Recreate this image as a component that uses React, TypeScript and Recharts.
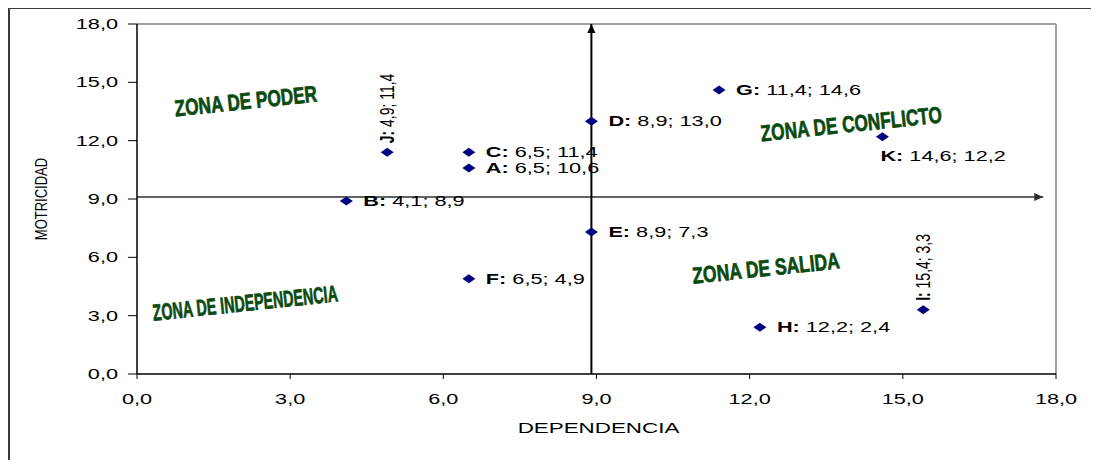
import React from "react";
import {
  ScatterChart,
  Scatter,
  XAxis,
  YAxis,
  ReferenceLine,
  ReferenceDot,
} from "recharts";

const pointNames = ["A", "B", "C", "D", "E", "F", "G", "H", "I", "J", "K"];
const dependencia = [6.5, 4.1, 6.5, 8.9, 8.9, 6.5, 11.4, 12.2, 15.4, 4.9, 14.6];
const motricidad = [10.6, 8.9, 11.4, 13.0, 7.3, 4.9, 14.6, 2.4, 3.3, 11.4, 12.2];
const axisTicks = [0, 3, 6, 9, 12, 15, 18];

const zoneNames = [
  "ZONA DE PODER",
  "ZONA DE CONFLICTO",
  "ZONA DE SALIDA",
  "ZONA DE INDEPENDENCIA",
];
const zoneX = [2.13, 13.99, 12.32, 2.12];
const zoneY = [14.04, 12.86, 5.45, 3.65];

// split lines of the quadrants
const splitDependencia = 8.9;
const splitMotricidad = 9.1;

const data = pointNames.map((name, i) => ({
  name,
  x: dependencia[i],
  y: motricidad[i],
}));

const FONT = "'Liberation Sans', Arial, sans-serif";
const STRETCH = 1.55;

const labelSide: Record<string, string> = { J: "up", I: "up", K: "below" };
const zoneWidth: Record<string, number> = {
  "ZONA DE PODER": 143,
  "ZONA DE CONFLICTO": 182,
  "ZONA DE SALIDA": 148,
  "ZONA DE INDEPENDENCIA": 186,
};

const fmt = (v: number) => v.toFixed(1).replace(".", ",");

function PointShape(props: any) {
  const { cx, cy, payload } = props;
  const side = labelSide[payload.name] || "right";
  let tf = `translate(${cx + 17},${cy + 5}) scale(${STRETCH},1)`;
  if (side === "up") tf = `translate(${cx + 7},${cy - 9}) scale(1.5,1) rotate(-90)`;
  if (side === "below") tf = `translate(${cx - 2},${cy + 24}) scale(${STRETCH},1)`;
  return (
    <g>
      <polygon
        points={`${cx},${cy - 4.5} ${cx + 6.5},${cy} ${cx},${cy + 4.5} ${cx - 6.5},${cy}`}
        fill="#000080"
      />
      <text transform={tf} fontFamily={FONT} fontSize={14} fill="#000">
        <tspan fontWeight="bold">{payload.name + ":"}</tspan>
        <tspan>{` ${fmt(payload.x)}; ${fmt(payload.y)}`}</tspan>
      </text>
    </g>
  );
}

function XTick(p: any) {
  return (
    <text
      transform={`translate(${p.x},${p.y + 23}) scale(${STRETCH},1)`}
      textAnchor="middle"
      fontFamily={FONT}
      fontSize={14}
      fill="#000"
    >
      {fmt(p.payload.value)}
    </text>
  );
}

function YTick(p: any) {
  return (
    <text
      transform={`translate(${p.x},${p.y + 5}) scale(${STRETCH},1)`}
      textAnchor="end"
      fontFamily={FONT}
      fontSize={14}
      fill="#000"
    >
      {fmt(p.payload.value)}
    </text>
  );
}

function Arrow(props: any) {
  const { x1, y1, x2, y2, color, lineWidth } = props;
  const horizontal = Math.abs(y2 - y1) < Math.abs(x2 - x1);
  let head: string;
  if (horizontal) {
    const hx = Math.max(x1, x2);
    head = `${hx},${y1} ${hx - 9},${y1 - 4} ${hx - 9},${y1 + 4}`;
  } else {
    const hy = Math.min(y1, y2);
    head = `${x1},${hy} ${x1 - 4},${hy + 9} ${x1 + 4},${hy + 9}`;
  }
  return (
    <g>
      <line x1={x1} y1={y1} x2={x2} y2={y2} stroke={color} strokeWidth={lineWidth} />
      <polygon points={head} fill={color} />
    </g>
  );
}

function ZoneLabel(props: any) {
  const { cx, cy, text } = props;
  return (
    <text
      transform={`translate(${cx},${cy}) rotate(-6)`}
      textAnchor="middle"
      dominantBaseline="central"
      fontFamily={FONT}
      fontWeight="bold"
      fontSize={23}
      fill="#0b4a10"
      stroke="#0b4a10"
      strokeWidth={0.7}
      textLength={zoneWidth[text]}
      lengthAdjust="spacingAndGlyphs"
    >
      {text}
    </text>
  );
}

export default function App() {
  return (
    <div style={{ position: "relative", width: 1091, height: 452 }}>
      <div
        style={{
          position: "absolute",
          left: 0,
          top: -1,
          width: 1091,
          height: 453,
          borderTop: "2px solid #3a3a3a",
          borderLeft: "2px solid #3a3a3a",
          boxSizing: "border-box",
        }}
      />
      <div style={{ position: "absolute", left: 0, top: 0 }}>
        <ScatterChart
          width={1091}
          height={452}
          margin={{ top: 16, right: 43, bottom: 46, left: 69 }}
        >
          <XAxis
            type="number"
            dataKey="x"
            domain={[0, 18]}
            ticks={axisTicks}
            height={40}
            tickSize={5}
            tickMargin={2}
            axisLine={{ stroke: "#000", strokeWidth: 1.5 }}
            tickLine={{ stroke: "#000" }}
            tick={XTick}
            label={{
              content: (p: any) => (
                <text
                  transform={`translate(${p.viewBox.x + p.viewBox.width / 2 + 2},${p.viewBox.y + 59}) scale(1.6,1)`}
                  textAnchor="middle"
                  fontFamily={FONT}
                  fontSize={14}
                  fill="#000"
                >
                  DEPENDENCIA
                </text>
              ),
            }}
          />
          <YAxis
            type="number"
            dataKey="y"
            domain={[0, 18]}
            ticks={axisTicks}
            width={60}
            tickSize={9}
            tickMargin={10}
            axisLine={{ stroke: "#000", strokeWidth: 1.5 }}
            tickLine={{ stroke: "#000" }}
            tick={YTick}
            label={{
              content: (p: any) => (
                <text
                  transform={`translate(39,${p.viewBox.y + p.viewBox.height / 2}) scale(1.25,1) rotate(-90)`}
                  textAnchor="middle"
                  fontFamily={FONT}
                  fontSize={13}
                  fill="#000"
                >
                  MOTRICIDAD
                </text>
              ),
            }}
          />
          <ReferenceLine y={18} stroke="#a0a0a0" strokeWidth={2} />
          <ReferenceLine x={18} stroke="#a0a0a0" strokeWidth={2} />
          <ReferenceLine
            segment={[
              { x: 0.001, y: splitMotricidad },
              { x: 17.75, y: splitMotricidad },
            ]}
            shape={(p: any) => <Arrow {...p} color="#303030" lineWidth={1.5} />}
          />
          <ReferenceLine
            x={splitDependencia}
            shape={(p: any) => <Arrow {...p} color="#000" lineWidth={2} />}
          />
          {zoneNames.map((z, i) => (
            <ReferenceDot
              key={z}
              x={zoneX[i]}
              y={zoneY[i]}
              r={1}
              shape={(p: any) => <ZoneLabel cx={p.cx} cy={p.cy} text={z} />}
            />
          ))}
          <Scatter data={data} shape={PointShape} isAnimationActive={false} />
        </ScatterChart>
      </div>
    </div>
  );
}
